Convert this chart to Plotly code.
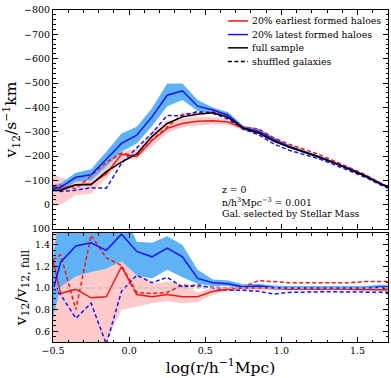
"""Pairwise velocity v12(r) for early / late formed haloes, plus ratio to full sample."""

import plotly.graph_objects as go
from plotly.subplots import make_subplots

FONT = "DejaVu Serif"
RED = "#f01818"
BLUE = "#1414f5"
RED_BAND = "#ffcaca"
BLUE_BAND = "#60b2f6"
DASH = "4px,2.5px"

# ---------------------------------------------------------------------------
# data
# ---------------------------------------------------------------------------
log_r = [-0.5, -0.45, -0.35, -0.25, -0.15, -0.05, 0.05, 0.15, 0.25, 0.35, 0.45, 0.55,
         0.65, 0.75, 0.85, 0.95, 1.05, 1.15, 1.25, 1.35, 1.45, 1.55, 1.65, 1.75]

# top panel: v12 in km/s
v12_full = [-61, -59, -82, -82, -136, -175, -209, -280, -334, -361, -372, -378,
            -359, -314, -295, -262, -237, -216, -196, -171, -146, -118, -86, -58]
v12_early = [-75, -66, -82, -86, -128, -207, -198, -264, -314, -334, -343, -345,
             -340, -314, -295, -263, -238, -217, -196, -171, -147, -118, -86, -58]
v12_early_hi = [-130, -110, -100, -105, -160, -220, -228, -300, -345, -356, -362, -360,
                -352, -322, -302, -269, -244, -222, -201, -176, -151, -122, -90, -62]
v12_early_lo = [5, 0, -40, -45, -110, -180, -190, -240, -296, -318, -326, -330,
                -328, -306, -288, -257, -232, -212, -191, -166, -143, -114, -82, -54]
v12_late = [-68, -72, -113, -123, -187, -252, -286, -361, -450, -468, -405, -389,
            -368, -316, -302, -268, -240, -218, -197, -172, -147, -119, -87, -59]
v12_late_hi = [-82, -88, -132, -146, -218, -293, -320, -396, -498, -498, -430, -400,
               -380, -325, -312, -277, -247, -225, -203, -178, -152, -124, -92, -63]
v12_late_lo = [-52, -57, -95, -100, -157, -218, -252, -323, -405, -430, -385, -378,
               -356, -307, -292, -259, -233, -211, -191, -166, -142, -114, -82, -55]
v12_early_shuf = [-75, -80, -66, -120, -174, -212, -200, -266, -321, -372, -378, -382,
                  -360, -318, -312, -275, -249, -227, -206, -179, -153, -124, -90, -61]
v12_late_shuf = [-60, -55, -60, -70, -68, -170, -234, -294, -367, -365, -383, -376,
                 -352, -310, -288, -250, -224, -207, -188, -164, -140, -113, -82, -55]

# bottom panel: ratio to full sample
ratio_early = [1.26, 0.95, 0.99, 0.91, 0.92, 1.20, 0.94, 0.92, 0.94, 0.92, 0.92, 0.97,
               0.99, 1.0, 1.0, 1.0, 0.99, 0.995, 0.99, 0.995, 0.99, 0.985, 0.985, 0.985]
ratio_early_hi = [1.6, 1.55, 1.17, 1.18, 1.19, 1.29, 1.17, 1.04, 1.06, 1.03, 0.96, 1.0,
                  1.01, 1.02, 1.015, 1.015, 1.005, 1.01, 1.005, 1.01, 1.005, 1.0, 1.0, 1.0]
ratio_early_lo = [0.3, 0.35, 0.4, 0.3, 0.5, 0.80, 0.83, 0.86, 0.88, 0.86, 0.87, 0.94,
                  0.97, 0.98, 0.98, 0.98, 0.975, 0.98, 0.975, 0.98, 0.975, 0.97, 0.97, 0.97]
ratio_late = [0.98, 1.24, 1.39, 1.42, 1.35, 1.50, 1.34, 1.29, 1.37, 1.29, 1.09, 1.05,
              1.04, 1.01, 1.02, 1.005, 1.0, 1.0, 1.0, 0.995, 1.0, 1.0, 1.01, 1.01]
ratio_late_hi = [1.29, 1.75, 1.7, 1.7, 1.6, 1.75, 1.43, 1.42, 1.48, 1.40, 1.17, 1.08,
                 1.07, 1.035, 1.04, 1.025, 1.02, 1.02, 1.02, 1.015, 1.02, 1.02, 1.03, 1.03]
ratio_late_lo = [0.73, 1.01, 1.11, 1.15, 1.18, 1.25, 1.12, 1.09, 1.17, 1.10, 1.04, 1.02,
                 1.02, 0.99, 1.0, 0.985, 0.985, 0.985, 0.985, 0.98, 0.985, 0.985, 0.99, 0.99]
ratio_early_shuf = [1.26, 1.31, 0.80, 1.49, 1.28, 1.21, 0.96, 0.95, 0.96, 1.03, 1.01, 1.01,
                    1.0, 1.01, 1.07, 1.06, 1.05, 1.05, 1.05, 1.05, 1.05, 1.06, 1.06, 1.06]
ratio_late_shuf = [1.0, 0.94, 0.72, 0.86, 0.48, 0.97, 1.12, 1.05, 1.10, 1.01, 1.03, 1.0,
                   0.98, 0.98, 0.97, 0.945, 0.96, 0.965, 0.965, 0.965, 0.965, 0.965, 0.96, 0.96]

legend_labels = ["20% earliest formed haloes", "20% latest formed haloes",
                 "full sample", "shuffled galaxies"]
info_lines = ["z = 0", "n/h<sup>3</sup>Mpc<sup>−3</sup> = 0.001", "Gal. selected by Stellar Mass"]


def band(fig, lo, hi, color, row):
    fig.add_trace(go.Scatter(x=log_r, y=lo, mode="lines", line=dict(width=0),
                             hoverinfo="skip", showlegend=False), row=row, col=1)
    fig.add_trace(go.Scatter(x=log_r, y=hi, mode="lines", line=dict(width=0), fill="tonexty",
                             fillcolor=color, hoverinfo="skip", showlegend=False), row=row, col=1)


def curve(fig, y, color, row, dash="solid", width=1.5):
    fig.add_trace(go.Scatter(x=log_r, y=y, mode="lines", showlegend=False,
                             line=dict(color=color, width=width, dash=dash)), row=row, col=1)


fig = make_subplots(rows=2, cols=1, shared_xaxes=True)

# top panel
band(fig, v12_early_lo, v12_early_hi, RED_BAND, 1)
band(fig, v12_late_lo, v12_late_hi, BLUE_BAND, 1)
curve(fig, v12_early_shuf, RED, 1, dash=DASH)
curve(fig, v12_late_shuf, BLUE, 1, dash=DASH)
curve(fig, v12_early, RED, 1)
curve(fig, v12_late, BLUE, 1)
curve(fig, v12_full, "black", 1)

# bottom panel
band(fig, ratio_early_lo, ratio_early_hi, RED_BAND, 2)
band(fig, ratio_late_lo, ratio_late_hi, BLUE_BAND, 2)
fig.add_hline(y=1.0, line=dict(color="#c4c4c4", width=1.5, dash=DASH), row=2, col=1)
curve(fig, ratio_early_shuf, RED, 2, dash=DASH)
curve(fig, ratio_late_shuf, BLUE, 2, dash=DASH)
curve(fig, ratio_early, RED, 2)
curve(fig, ratio_late, BLUE, 2)

# hand-built legend so rows sit as tight as in the original
leg_styles = [(RED, "solid"), (BLUE, "solid"), ("black", "solid"), ("black", DASH)]
leg_y = [0.967, 0.926, 0.886, 0.845]
for label, (color, dash), yy in zip(legend_labels, leg_styles, leg_y):
    fig.add_shape(type="line", xref="paper", yref="paper", x0=0.522, x1=0.582, y0=yy, y1=yy,
                  line=dict(color=color, width=1.5, dash=dash))
    fig.add_annotation(text=label, xref="paper", yref="paper", x=0.588, y=yy,
                       xanchor="left", yanchor="middle", showarrow=False,
                       font=dict(family=FONT, size=9.3, color="black"))

for text, yy in zip(info_lines, [0.458, 0.423, 0.388]):
    fig.add_annotation(text=text, xref="paper", yref="paper", x=0.498, y=yy,
                       xanchor="left", yanchor="middle", showarrow=False,
                       font=dict(family=FONT, size=9.3, color="black"))

axis_common = dict(showline=True, linecolor="black", linewidth=1, mirror="allticks",
                   ticks="inside", ticklen=5, tickcolor="black", showgrid=False, zeroline=False,
                   tickfont=dict(family=FONT, size=9.5, color="black"))

fig.update_xaxes(range=[-0.5, 1.7], dtick=0.5, tick0=0, tickformat=".1f",
                 minor=dict(ticks="inside", dtick=0.1, ticklen=2.5, tickcolor="black"),
                 **axis_common)
fig.update_xaxes(showticklabels=False, row=1, col=1)
fig.update_xaxes(title=dict(text="log(r/h<sup>−1</sup>Mpc)", standoff=2,
                            font=dict(family=FONT, size=15.5, color="black")), row=2, col=1)

fig.update_yaxes(range=[100, -800], dtick=100, tick0=0, domain=[0.340, 1.0],
                 minor=dict(ticks="inside", dtick=20, ticklen=2.5, tickcolor="black"),
                 title=dict(text="v<sub>12</sub>/s<sup>−1</sup>km", standoff=4,
                            font=dict(family=FONT, size=15.5, color="black")),
                 row=1, col=1, **axis_common)
fig.update_yaxes(range=[0.5, 1.51], dtick=0.2, tick0=0, tickformat=".1f", domain=[0.0, 0.328],
                 minor=dict(ticks="inside", dtick=0.05, ticklen=2.5, tickcolor="black"),
                 title=dict(text="v<sub>12</sub>/v<sub>12, full</sub>", standoff=4,
                            font=dict(family=FONT, size=15.5, color="black")),
                 row=2, col=1, **axis_common)

fig.update_layout(width=391, height=378, margin=dict(l=53, r=3, t=10, b=36),
                  paper_bgcolor="white", plot_bgcolor="white", showlegend=False,
                  font=dict(family=FONT, color="black"))

# page body has an 8px default margin; drop it so the figure sits at the window corner
fig.write_html("out.html", config={"displayModeBar": False},
               post_script="document.body.style.margin = '0';")
